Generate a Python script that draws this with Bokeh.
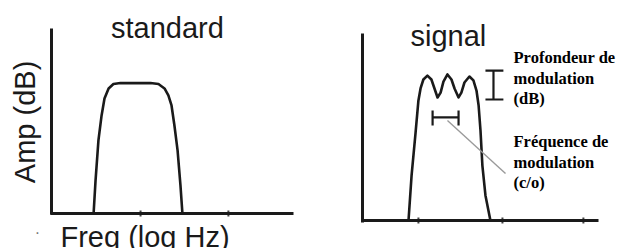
import math
from bokeh.plotting import figure
from bokeh.layouts import row
from bokeh.models import Range1d, FixedTicker, Label, LinearAxis
from bokeh.embed import file_html
from bokeh.resources import INLINE

# ---- data (schematic, arbitrary units: axes run 0..10) ----
std_freq = [1.74, 1.82, 1.94, 2.07, 2.19, 2.36, 2.56, 2.85, 4.09, 4.42, 4.67, 4.83, 4.96, 5.08, 5.21, 5.33, 5.41]
std_amp = [0.0, 1.78, 3.95, 5.30, 6.22, 6.76, 7.00, 7.05, 7.05, 7.00, 6.76, 6.38, 5.84, 4.76, 3.41, 1.51, 0.0]

sig_freq = [1.95, 2.08, 2.25, 2.37, 2.46, 2.58, 2.75, 2.92, 3.05, 3.18, 3.31, 3.43, 3.60, 3.77, 3.90,
            4.07, 4.19, 4.32, 4.53, 4.70, 4.83, 4.92, 5.00, 5.08, 5.21, 5.42]
sig_amp = [0.0, 2.41, 4.71, 6.42, 7.06, 7.54, 7.75, 7.54, 7.06, 6.58, 6.84, 7.43, 7.81, 7.54, 7.06,
           6.58, 6.84, 7.38, 7.70, 7.49, 6.95, 6.15, 4.81, 2.94, 1.34, 0.0]

std_ticks = [3.68, 7.31]
sig_ticks = [2.37, 5.93, 9.36]

# modulation depth bar (vertical) and modulation frequency bar (horizontal)
depth_x = 5.55
depth_lo, depth_hi = 6.47, 8.02
depth_cap = [5.21, 5.97]
freq_y = 5.51
freq_lo, freq_hi = 2.97, 4.07
freq_cap = [5.08, 5.88]
leader_x = [3.60, 6.06]
leader_y = [5.35, 2.51]

title_std = "standard"
title_sig = "signal"
xlabel = "Freq (log Hz)"
ylabel = "Amp (dB)"
note_depth = ["Profondeur de", "modulation", "(dB)"]
note_freq = ["Fréquence de", "modulation", "(c/o)"]
note_depth_y = [8.74, 7.62, 6.55]
note_freq_y = [4.25, 3.12, 2.05]

SANS = "Liberation Sans"
SERIF = "Liberation Serif"
SANS_SIZE = "29px"
SERIF_SIZE = "16.5px"
INK = "#1a1a1a"


def base_fig(width, height, xr, yr, ticks):
    p = figure(width=width, height=height, output_backend="svg", toolbar_location=None,
               x_range=Range1d(*xr), y_range=Range1d(*yr),
               x_axis_location=None, y_axis_location=None,
               min_border_left=0, min_border_right=0, min_border_top=0, min_border_bottom=0)
    p.outline_line_color = None
    p.grid.visible = False
    p.background_fill_color = "white"
    p.border_fill_color = "white"
    xa = LinearAxis(fixed_location=0, bounds=(-0.06, 10), ticker=FixedTicker(ticks=[]))
    ya = LinearAxis(fixed_location=0, bounds=(-0.08, 10), ticker=FixedTicker(ticks=[]))
    for ax in (xa, ya):
        ax.axis_line_width = 3
        ax.axis_line_color = INK
        ax.major_tick_in = 0
        ax.major_tick_out = 0
        ax.minor_tick_in = 0
        ax.minor_tick_out = 0
        ax.major_label_standoff = 0
    p.add_layout(xa, "below")
    p.add_layout(ya, "left")
    # small tick bumps on the frequency axis
    p.scatter(ticks, [0] * len(ticks), marker="dash", angle=math.pi / 2, size=6,
              line_width=2, line_color="#444444")
    return p


# ---- left panel: standard ----
p1 = base_fig(308, 248, (-2.107, 10.620), (-1.892, 11.514), std_ticks)
p1.line(std_freq, std_amp, line_width=2.6, line_color=INK, line_join="round")
p1.add_layout(Label(x=4.79, y=10.03, text=title_std, text_align="center", text_baseline="alphabetic",
                    text_font=SANS, text_font_size=SANS_SIZE, text_color=INK))
p1.add_layout(Label(x=-1.10, y=4.95, text=ylabel, angle=math.pi / 2, text_align="center",
                    text_baseline="alphabetic", text_font=SANS, text_font_size=SANS_SIZE, text_color=INK))
p1.add_layout(Label(x=0.37, y=-1.26, text=xlabel, text_align="left", text_baseline="alphabetic",
                    text_font=SANS, text_font_size=SANS_SIZE, text_color=INK))
p1.add_layout(Label(x=-0.58, y=-1.03, text="·", text_align="center", text_baseline="middle",
                    text_font=SANS, text_font_size="16px", text_color="#777777"))

# ---- right panel: signal ----
p2 = base_fig(309, 248, (-2.288, 10.805), (-1.497, 11.765), sig_ticks)
p2.line(sig_freq, sig_amp, line_width=2.6, line_color=INK, line_join="round")
# modulation depth I-bar
p2.segment(x0=[depth_x, depth_cap[0], depth_cap[0]], y0=[depth_lo, depth_lo, depth_hi],
           x1=[depth_x, depth_cap[1], depth_cap[1]], y1=[depth_hi, depth_lo, depth_hi],
           line_width=2.2, line_color=INK)
# modulation frequency H-bar
p2.segment(x0=[freq_lo, freq_lo, freq_hi], y0=[freq_y, freq_cap[0], freq_cap[0]],
           x1=[freq_hi, freq_lo, freq_hi], y1=[freq_y, freq_cap[1], freq_cap[1]],
           line_width=2.2, line_color=INK)
p2.line(leader_x, leader_y, line_width=1.4, line_color="#9a9a9a")
p2.add_layout(Label(x=3.64, y=9.87, text=title_sig, text_align="center", text_baseline="alphabetic",
                    text_font=SANS, text_font_size=SANS_SIZE, text_color=INK))
for t, yy in zip(note_depth, note_depth_y):
    p2.add_layout(Label(x=6.40, y=yy, text=t, text_align="left", text_baseline="alphabetic",
                        text_font=SERIF, text_font_style="bold", text_font_size=SERIF_SIZE,
                        text_color="black"))
for t, yy in zip(note_freq, note_freq_y):
    p2.add_layout(Label(x=6.40, y=yy, text=t, text_align="left", text_baseline="alphabetic",
                        text_font=SERIF, text_font_style="bold", text_font_size=SERIF_SIZE,
                        text_color="black"))

layout = row(p1, p2)
open("out.html", "w").write(file_html(layout, INLINE))
